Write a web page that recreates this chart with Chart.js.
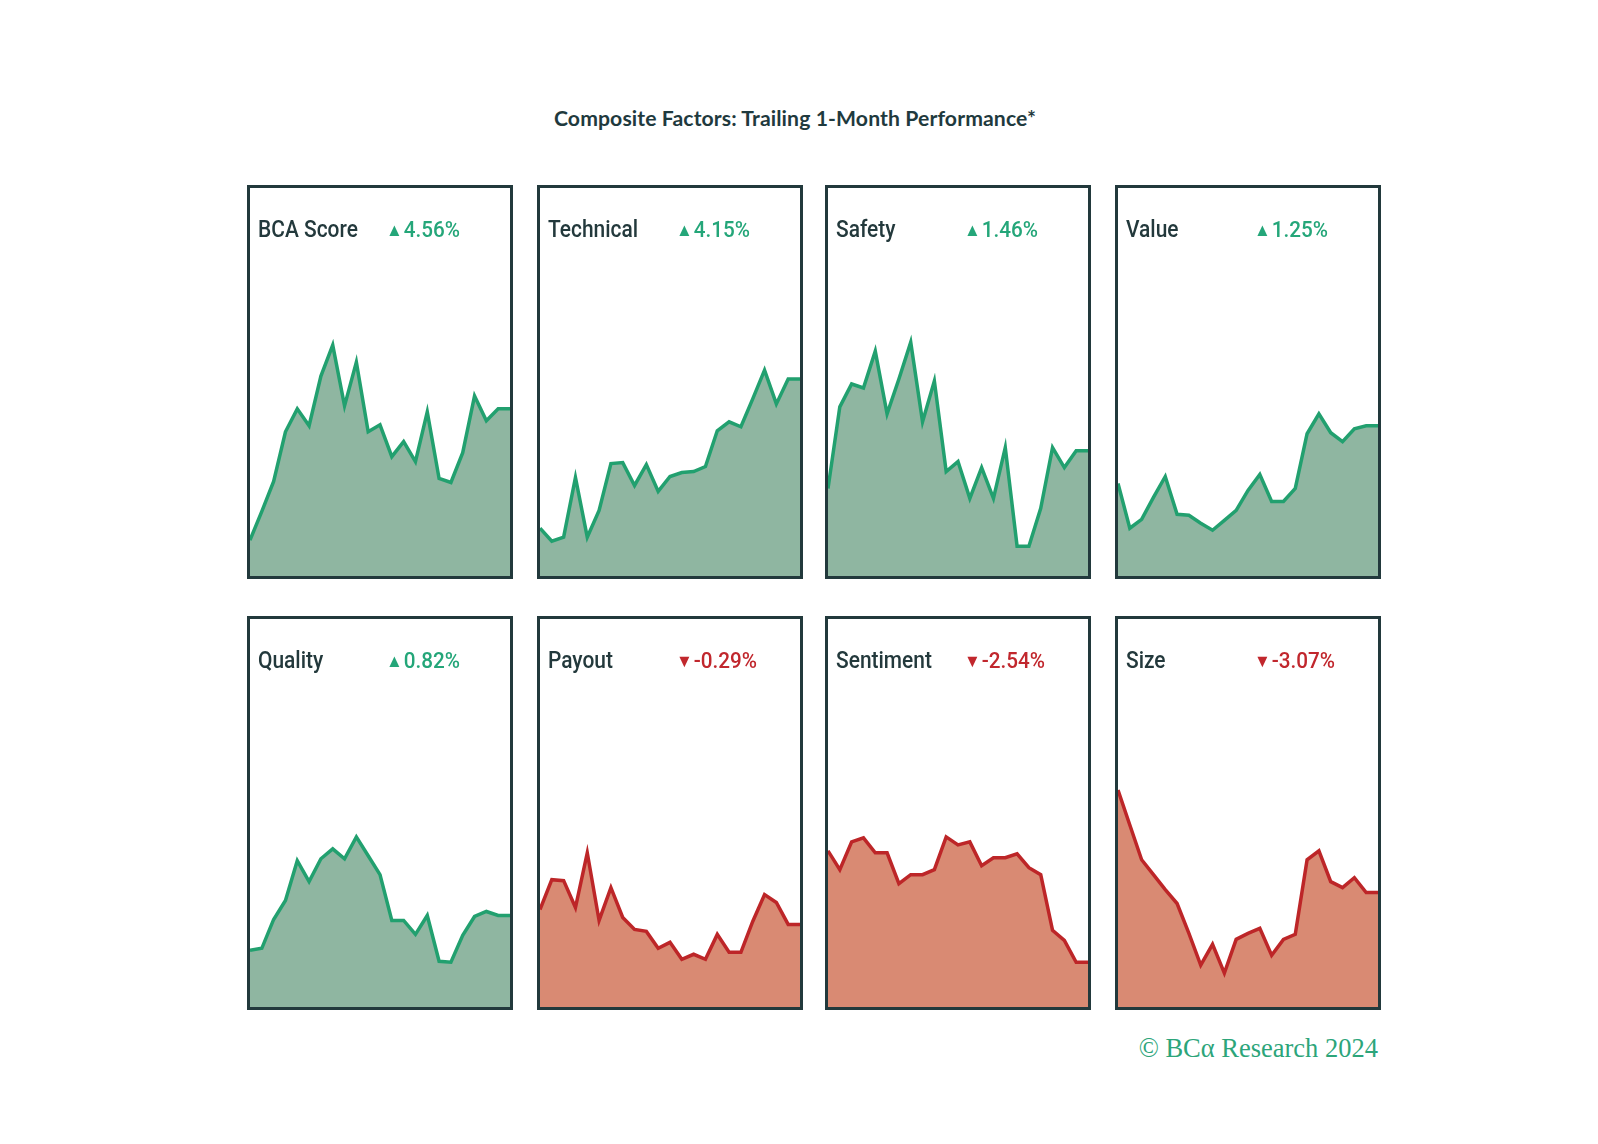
<!DOCTYPE html>
<html>
<head>
<meta charset="utf-8">
<script src="https://cdn.jsdelivr.net/npm/chart.js@4.4.1/dist/chart.umd.min.js"></script>
<style>
  html, body { margin: 0; padding: 0; background: #ffffff; }
  body { width: 1598px; height: 1144px; position: relative; overflow: hidden; font-family: "Lato", "Open Sans", sans-serif; }
  #title { position: absolute; left: 0; width: 1598px; top: 105px; text-align: center; font-family: "Lato", sans-serif; font-weight: 700; font-size: 21.2px; color: #1f3a3e; letter-spacing: 0.1px; padding-right: 8px; box-sizing: border-box; }
  .panel { position: absolute; width: 266px; height: 394px; border: 3px solid #22393c; box-sizing: border-box; background: #fff; }
  .panel canvas { position: absolute; left: 0; top: 0; }
  .lbl { position: absolute; top: 28px; left: 8px; font-family: "Roboto", sans-serif; font-weight: 500; font-size: 23px; color: #23393c; transform: scaleX(0.91); transform-origin: left center; white-space: nowrap; z-index: 2; }
  .chg { position: absolute; top: 29px; left: 136px; font-family: "Roboto", sans-serif; font-weight: 500; font-size: 22px; transform: scaleX(0.94); transform-origin: left center; white-space: nowrap; z-index: 2; }
  .chg .tri { font-size: 18px; position: relative; top: -1px; margin-right: 1px; }
  #copy { position: absolute; right: 220px; top: 1033px; font-family: "Liberation Serif", "DejaVu Serif", serif; font-size: 26.5px; color: #2ca57a; white-space: nowrap; }
</style>
</head>
<body>
<div id="title">Composite Factors: Trailing 1-Month Performance*</div>
<div id="grid"></div>
<div id="copy">© BCα Research 2024</div>
<script>
// Panel names and trailing 1-month changes
const factorNames = ["BCA Score", "Technical", "Safety", "Value", "Quality", "Payout", "Sentiment", "Size"];
const factorChanges = ["4.56%", "4.15%", "1.46%", "1.25%", "0.82%", "-0.29%", "-2.54%", "-3.07%"];
const factorDirection = ["up", "up", "up", "up", "up", "down", "down", "down"];

// Series values (relative level)
const bcaScore  = [36, 65, 95, 145, 168, 151, 201, 232, 171, 215, 145, 152, 120, 135, 115, 165, 98, 94, 124, 181, 156, 168, 168];
const technical = [48, 35, 39, 99, 39, 66, 113, 114, 91, 112, 85, 100, 104, 105, 110, 146, 155, 150, 178, 207, 173, 198, 198];
const safety    = [88, 170, 193, 189, 226, 163, 198, 235, 155, 196, 105, 115, 78, 109, 78, 129, 30, 30, 68, 129, 109, 126, 126];
const value     = [93, 48, 57, 79, 100, 62, 61, 53, 46, 56, 66, 86, 102, 75, 75, 88, 143, 163, 144, 135, 148, 151, 151];
const quality   = [57, 59, 88, 107, 147, 126, 149, 159, 149, 171, 152, 133, 87, 87, 73, 92, 46, 45, 72, 91, 96, 92, 92];
const payout    = [98, 128, 127, 100, 155, 87, 120, 90, 78, 76, 59, 65, 48, 53, 48, 73, 55, 55, 86, 113, 105, 83, 83];
const sentiment = [157, 138, 166, 170, 155, 155, 124, 133, 133, 138, 171, 163, 166, 142, 150, 150, 154, 140, 133, 77, 67, 45, 45];
const size      = [218, 183, 148, 133, 118, 104, 74, 42, 63, 34, 68, 74, 79, 52, 68, 73, 148, 157, 126, 120, 130, 115, 115];

const allSeries = [bcaScore, technical, safety, value, quality, payout, sentiment, size];
const dayLabels = bcaScore.map((_, i) => "D" + (i + 1));

const panelLeft = [247, 537, 825, 1115];
const panelTop = [185, 616];
const innerW = 260, innerH = 388;
const yMaxLevel = 390;

const upLine = "#22a06f", upFill = "#8fb6a1";
const downLine = "#bd2628", downFill = "#d98a73";
const upText = "#24a679", downText = "#c1272d";

const grid = document.getElementById("grid");
factorNames.forEach((name, k) => {
  const up = factorDirection[k] === "up";
  const panel = document.createElement("div");
  panel.className = "panel";
  panel.style.left = panelLeft[k % 4] + "px";
  panel.style.top = panelTop[Math.floor(k / 4)] + "px";
  const lbl = document.createElement("div");
  lbl.className = "lbl";
  lbl.textContent = name;
  const chg = document.createElement("div");
  chg.className = "chg";
  chg.style.color = up ? upText : downText;
  chg.innerHTML = '<span class="tri">' + (up ? "▲" : "▼") + '</span>' + factorChanges[k];
  const cv = document.createElement("canvas");
  cv.width = innerW; cv.height = innerH;
  cv.style.width = innerW + "px"; cv.style.height = innerH + "px";
  panel.appendChild(cv);
  panel.appendChild(lbl);
  panel.appendChild(chg);
  grid.appendChild(panel);

  new Chart(cv.getContext("2d"), {
    type: "line",
    data: {
      labels: dayLabels,
      datasets: [{
        data: allSeries[k],
        borderColor: up ? upLine : downLine,
        backgroundColor: up ? upFill : downFill,
        fill: "origin",
        borderWidth: 3.5,
        pointRadius: 0,
        tension: 0,
        borderJoinStyle: "miter",
        clip: 0
      }]
    },
    options: {
      responsive: false,
      animation: false,
      devicePixelRatio: 1,
      layout: { padding: 0 },
      plugins: { legend: { display: false }, tooltip: { enabled: false }, title: { display: false } },
      scales: {
        x: { display: false, offset: false, grid: { display: false } },
        y: { display: false, min: 0, max: yMaxLevel, grid: { display: false } }
      }
    }
  });
});
</script>
</body>
</html>
